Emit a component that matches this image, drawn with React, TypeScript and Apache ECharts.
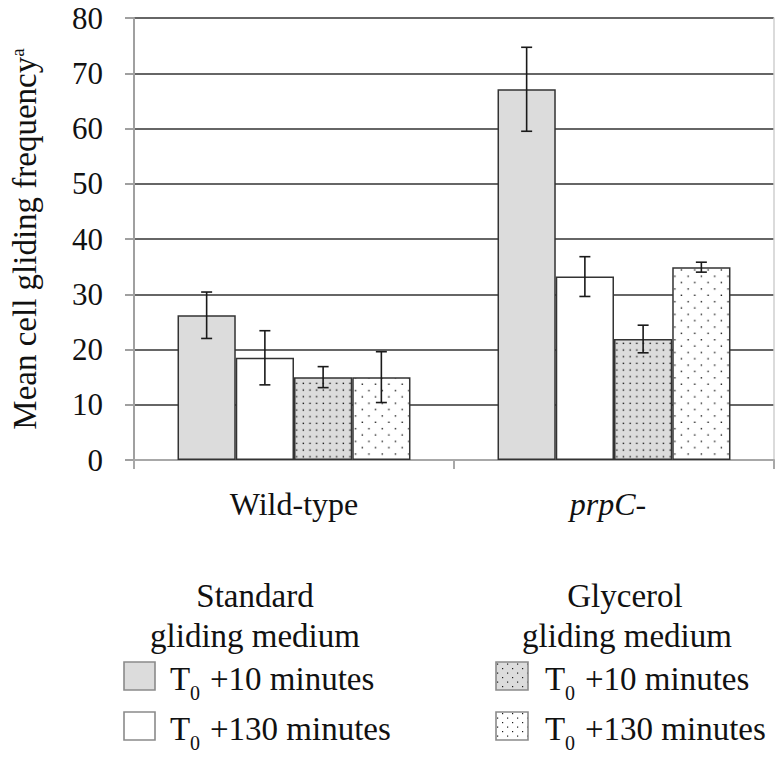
import React, { useEffect, useRef } from 'react';
import * as echarts from 'echarts';

// Strains on the category axis
const categories = ['Wild-type', 'prpC-'];

// Value axis
const yMin = 0;
const yMax = 80;
const yStep = 10;

// Mean cell gliding frequency and error (±) per medium / time point
const standard10 = [26.2, 67.1];
const standard10Err = [4.2, 7.6];
const standard130 = [18.5, 33.2];
const standard130Err = [4.9, 3.6];
const glycerol10 = [15.0, 21.9];
const glycerol10Err = [1.9, 2.5];
const glycerol130 = [15.0, 34.9];
const glycerol130Err = [4.6, 0.9];

const seriesNames = [
  'Standard gliding medium, T0 +10 minutes',
  'Standard gliding medium, T0 +130 minutes',
  'Glycerol gliding medium, T0 +10 minutes',
  'Glycerol gliding medium, T0 +130 minutes',
];

const FONT = 'Liberation Serif';
const INK = '#111';
const BAR_FRAC = 0.182;

// Small SVG tile used as a repeating dot fill
function dotTile(w: number, h: number, bg: string, dots: number[][], dot = 1.4) {
  const svg =
    `<svg xmlns="http://www.w3.org/2000/svg" width="${w}" height="${h}">` +
    `<rect width="${w}" height="${h}" fill="${bg}"/>` +
    dots.map(([x, y]) => `<rect x="${x}" y="${y}" width="${dot}" height="${dot}" fill="#1a1a1a"/>`).join('') +
    `</svg>`;
  return {
    image: 'data:image/svg+xml;charset=utf-8,' + encodeURIComponent(svg),
    repeat: 'repeat',
    imageWidth: w,
    imageHeight: h,
  };
}

const denseGray = () => dotTile(6.67, 6.67, '#dcdcdc', [[2.5, 2.5]]);
const sparseWhite = () => dotTile(13.3, 12.7, '#ffffff', [[2.5, 2.5], [9.15, 8.85]]);
const keyGray = () => dotTile(10, 9, '#dcdcdc', [[2, 2], [7, 6.5]], 1.2);
const keyWhite = () => dotTile(10, 9, '#ffffff', [[2, 2], [7, 6.5]], 1.2);

function errorSeries(k: number, means: number[], errs: number[]) {
  return {
    type: 'custom',
    name: seriesNames[k] + ' error',
    z: 5,
    silent: true,
    data: means.map((m, i) => [i, m - errs[i], m + errs[i]]),
    renderItem: (_params: any, api: any) => {
      const band = api.size([1, 0])[0];
      const lo = api.coord([api.value(0), api.value(1)]);
      const hi = api.coord([api.value(0), api.value(2)]);
      const x = lo[0] + (k - 1.5) * band * BAR_FRAC;
      const cap = 5.5;
      const style = { stroke: '#1a1a1a', lineWidth: 1.6 };
      return {
        type: 'group',
        children: [
          { type: 'line', shape: { x1: x, y1: hi[1], x2: x, y2: lo[1] }, style },
          { type: 'line', shape: { x1: x - cap, y1: hi[1], x2: x + cap, y2: hi[1] }, style },
          { type: 'line', shape: { x1: x - cap, y1: lo[1], x2: x + cap, y2: lo[1] }, style },
        ],
      };
    },
  };
}

function barSeries(k: number, values: number[], fill: any) {
  return {
    type: 'bar',
    name: seriesNames[k],
    data: values,
    barWidth: BAR_FRAC * 100 + '%',
    barGap: '0%',
    itemStyle: { color: fill, borderColor: '#333', borderWidth: 1.5 },
  };
}

// Legend: two column headers, each with two keyed rows
function legendGraphics() {
  const els: any[] = [];
  const txt = (text: string, x: number, y: number, size: number, align: string) => ({
    type: 'text', x, y,
    style: { text, fontFamily: FONT, fontSize: size, fill: INK, align, verticalAlign: 'middle' },
  });
  const row = (kx: number, kw: number, ky: number, fill: any, tx: number, label: string) => {
    const mid = ky + 17;
    els.push({ type: 'rect', shape: { x: kx, y: ky, width: kw, height: 28 }, style: { fill, stroke: '#8a8a8a', lineWidth: 1.6 } });
    els.push(txt('T', tx, mid, 33, 'left'));
    els.push(txt('0', tx + 20, mid + 14, 20, 'left'));
    els.push(txt(label, tx + 40, mid, 33, 'left'));
  };
  els.push(txt('Standard', 255, 596, 33, 'center'));
  els.push(txt('gliding medium', 255, 636, 33, 'center'));
  els.push(txt('Glycerol', 625, 596, 33, 'center'));
  els.push(txt('gliding medium', 627, 636, 33, 'center'));
  row(124, 31, 662, '#dcdcdc', 170, '+10 minutes');
  row(124, 31, 712, '#ffffff', 170, '+130 minutes');
  row(496, 32, 662, keyGray(), 545, '+10 minutes');
  row(496, 32, 712, keyWhite(), 545, '+130 minutes');
  return els;
}

export default function App() {
  const ref = useRef<HTMLDivElement>(null);

  useEffect(() => {
    if (!ref.current) return;
    const chart = echarts.init(ref.current, undefined, { renderer: 'svg' });
    chart.setOption({
      animation: false,
      backgroundColor: '#fff',
      textStyle: { fontFamily: FONT },
      grid: { left: 132, top: 18, right: 1, bottom: 301 },
      xAxis: {
        type: 'category',
        data: categories,
        axisLine: { lineStyle: { color: '#a8a8a8', width: 2 } },
        axisTick: { show: true, length: 9, lineStyle: { color: '#a8a8a8', width: 2 } },
        axisLabel: {
          margin: 28,
          fontFamily: FONT,
          formatter: (v: string) => (v === 'prpC-' ? `{i|${v}}` : `{n|${v}}`),
          rich: {
            n: { fontFamily: FONT, fontSize: 32, color: INK },
            i: { fontFamily: FONT, fontSize: 32, fontStyle: 'italic', color: INK, padding: [0, 12, 0, 0] },
          },
        },
      },
      yAxis: [
        {
          type: 'value',
          min: yMin,
          max: yMax,
          interval: yStep,
          name: '{m|Mean cell gliding frequency}{s|a}',
          nameLocation: 'middle',
          nameRotate: 90,
          nameGap: 93,
          nameTextStyle: {
            fontFamily: FONT,
            rich: {
              m: { fontFamily: FONT, fontSize: 33, color: INK },
              s: { fontFamily: FONT, fontSize: 19, color: INK, verticalAlign: 'top' },
            },
          },
          axisLine: { show: true, lineStyle: { color: '#a0a0a0', width: 2 } },
          axisTick: { show: true, length: 9, lineStyle: { color: '#a0a0a0', width: 2 } },
          axisLabel: { margin: 31, fontFamily: FONT, fontSize: 31, color: INK },
          splitLine: { show: true, showMinLine: false, lineStyle: { color: '#333', width: 1.6 } },
        },
        {
          type: 'value',
          position: 'right',
          min: yMin,
          max: yMax,
          interval: yStep,
          axisLine: { show: true, lineStyle: { color: '#cfcfcf', width: 1.5 } },
          axisTick: { show: false },
          axisLabel: { show: false },
          splitLine: { show: false },
        },
      ],
      series: [
        barSeries(0, standard10, '#dcdcdc'),
        barSeries(1, standard130, '#ffffff'),
        barSeries(2, glycerol10, denseGray()),
        barSeries(3, glycerol130, sparseWhite()),
        errorSeries(0, standard10, standard10Err),
        errorSeries(1, standard130, standard130Err),
        errorSeries(2, glycerol10, glycerol10Err),
        errorSeries(3, glycerol130, glycerol130Err),
      ],
      graphic: legendGraphics(),
    });
    return () => chart.dispose();
  }, []);

  return (
    <div
      ref={ref}
      style={{ position: 'fixed', left: 0, top: 0, width: 775, height: 761, background: '#fff' }}
    />
  );
}
